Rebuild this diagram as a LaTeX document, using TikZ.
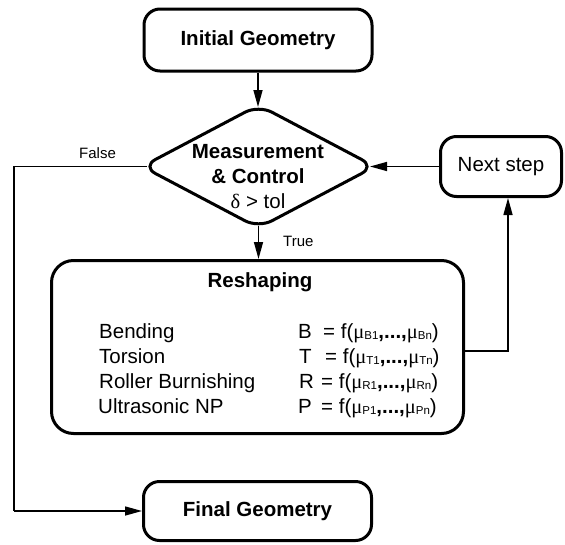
\documentclass[tikz,border=0pt]{standalone}
\usepackage{fontspec}
\setmainfont{Liberation Sans}
\newfontfamily\grk{Liberation Serif}
\usetikzlibrary{shapes.geometric,arrows.meta}
\newcommand\mysub[1]{\raisebox{-1.5pt}{\fontsize{11.5}{12}\selectfont #1}}
\newcommand\mymu{{\grk μ}}
\newcommand\mydots{\textbf{,...,}}
\begin{document}
\begin{tikzpicture}[x=1pt,y=-1pt,
  box/.style={draw, line width=3pt, rounded corners=16pt, inner sep=0pt},
  conn/.style={line width=1.5pt},
  arr/.style={conn, -{Triangle[length=17pt,width=9pt]}},
  big/.style={font=\fontsize{20.5}{25}\selectfont},
  bigb/.style={font=\fontsize{20.5}{25}\selectfont\bfseries},
  small/.style={font=\fontsize{15}{18}\selectfont},
  txt/.style={inner sep=0pt, anchor=base west}]
\useasboundingbox (0,0) rectangle (565,544);

\node[box, bigb, minimum width=228pt, minimum height=62pt] (init) at (258,40) {Initial Geometry};
\node[draw, diamond, line width=3pt, rounded corners=15pt, minimum width=234pt, minimum height=124pt, inner sep=0pt] (dia) at (258.5,166.5) {};
\node[big, align=center, inner sep=0pt] (dtxt) at (258,177) {{\bfseries Measurement}\\{\bfseries \& Control}\\{\grk δ} > tol};
\node[box, big, minimum width=121pt, minimum height=60pt] (next) at (501,166.5) {Next step};
\node[box, rounded corners=22pt, minimum width=412pt, minimum height=173pt] (resh) at (257.5,347) {};
\node[box, bigb, minimum width=228pt, minimum height=59pt] (final) at (257.5,511) {Final Geometry};

\coordinate (dtop) at ([yshift=-4pt]dia.north);
\coordinate (dbot) at ([yshift=4pt]dia.south);
\coordinate (dright) at ([xshift=-7pt]dia.east);
\coordinate (dleft) at ([xshift=7pt]dia.west);
\coordinate (fc) at (14,510);
\coordinate (rc) at (508,351);

\draw[arr] (init.south) -- (init.south |- dtop);
\draw[arr] (dbot) -- (dbot |- resh.north);
\draw[arr] (next.west) -- (next.west -| dright);
\draw[conn] (dleft) -- (fc |- dleft) -- (fc |- final.west);
\draw[arr] (fc |- final.west) -- (final.west);
\draw[arr] (resh.east |- rc) -- (rc) -- ([xshift=7pt]next.south);

\node[small, txt] (lf) at (79,158) {False};
\node[small, txt] (lt) at (283,246) {True};

\node[bigb, inner sep=0pt, anchor=base] (rt) at (260,287) {Reshaping};
\node[big, txt] (n1) at (99,338) {Bending};
\node[big, txt] (n2) at (99,363) {Torsion};
\node[big, txt] (n3) at (99,388) {Roller Burnishing};
\node[big, txt] (n4) at (98,413) {Ultrasonic NP};
\node[big, txt] (l1) at (298,338) {B};
\node[big, txt] (l2) at (299,363) {T};
\node[big, txt] (l3) at (299,388) {R};
\node[big, txt] (l4) at (298,413) {P};
\node[big, txt] (r1) at (323,338) {= f(\mymu\mysub{B1}\mydots\mymu\mysub{Bn})};
\node[big, txt] (r2) at (325,363) {= f(\mymu\mysub{T1}\mydots\mymu\mysub{Tn})};
\node[big, txt] (r3) at (321,388) {= f(\mymu\mysub{R1}\mydots\mymu\mysub{Rn})};
\node[big, txt] (r4) at (321,413) {= f(\mymu\mysub{P1}\mydots\mymu\mysub{Pn})};
\end{tikzpicture}
\end{document}
